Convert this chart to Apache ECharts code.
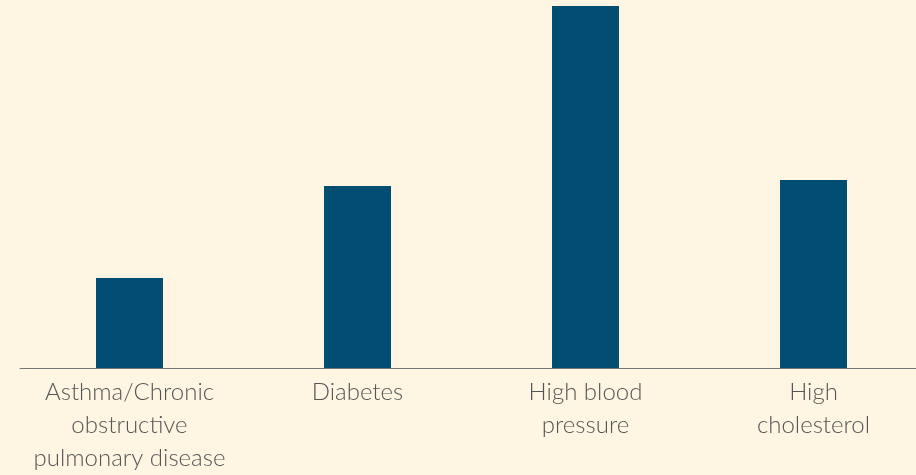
<!DOCTYPE html>
<html><head><meta charset="utf-8">
<script src="https://cdn.jsdelivr.net/npm/echarts@6/dist/echarts.min.js"></script>
<style>html,body{margin:0;padding:0;background:#fef5e3;}#c{width:916px;height:475px;}</style>
</head><body><div id="c"></div>
<script>
const categories = ['Asthma/Chronic\nobstructive\npulmonary disease', 'Diabetes', 'High blood\npressure', 'High\ncholesterol'];
const values = [9.0, 18.2, 36.2, 18.8];
const chart = echarts.init(document.getElementById('c'));
chart.setOption({
  backgroundColor: '#fef5e3',
  animation: false,
  grid: [
    {left: 15.5, width: 912, top: 6, height: 362, containLabel: false, outerBoundsMode: 'none'},
    {left: 20, right: 0, top: 6, height: 362, containLabel: false, outerBoundsMode: 'none'}
  ],
  xAxis: [
    {type: 'category', gridIndex: 0, data: categories,
      axisLine: {show: false}, axisTick: {show: false},
      axisLabel: {color: '#555', fontFamily: 'Lato', fontWeight: 300, fontSize: 24, lineHeight: 33, margin: 8, interval: 0}},
    {type: 'category', gridIndex: 1, data: [''],
      axisLine: {lineStyle: {color: '#777', width: 1}}, axisTick: {show: false}, axisLabel: {show: false}}
  ],
  yAxis: [
    {type: 'value', gridIndex: 0, min: 0, max: 36.2, show: false, splitLine: {show: false}},
    {type: 'value', gridIndex: 1, min: 0, max: 1, show: false, splitLine: {show: false}}
  ],
  series: [{type: 'bar', xAxisIndex: 0, yAxisIndex: 0, data: values, barWidth: 67, itemStyle: {color: '#024e72'}, z: 1}]
});
</script></body></html>
